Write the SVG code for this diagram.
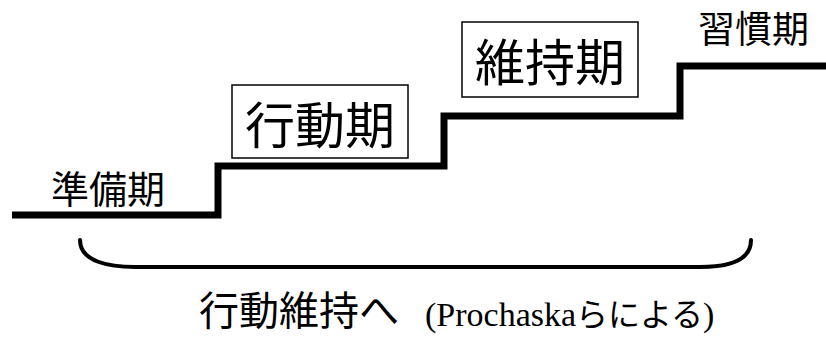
<svg xmlns="http://www.w3.org/2000/svg" width="826" height="338" viewBox="0 0 826 338">
<style>
.jp{font-family:"Noto Sans CJK JP","Noto Sans",sans-serif;fill:#000}
.lat{font-family:"Liberation Serif","Times New Roman",serif;fill:#000}
.box{fill:#fff;stroke:#000;stroke-width:1.5}
.step{fill:none;stroke:#000;stroke-width:7;stroke-linejoin:miter}
.brace{fill:none;stroke:#000;stroke-width:4;stroke-linecap:round}
</style>
<rect width="826" height="338" fill="#fff"/>
<g id="connectors">
<path class="step" d="M12,215 H218 V166 H444 V116 H680 V66 H826"/>
<path class="brace" d="M80,240 C80,262 110,267 135,267 H700 C725,267 751,262 751,240"/>
</g>
<g id="junbiki">
<text class="jp" x="51" y="203" font-size="38">準備期</text>
</g>
<g id="kodoki">
<rect class="box" x="232" y="85" width="176" height="73"/>
<text class="jp" x="320" y="144" font-size="50" text-anchor="middle">行動期</text>
</g>
<g id="ijiki">
<rect class="box" x="462" y="22" width="176" height="75"/>
<text class="jp" x="550" y="81" font-size="50" text-anchor="middle">維持期</text>
</g>
<g id="shukanki">
<text class="jp" x="698" y="43" font-size="37">習慣期</text>
</g>
<g id="caption">
<text x="199" y="325"><tspan class="jp" font-size="40">行動維持へ</tspan></text>
<text x="425" y="326"><tspan class="lat" font-size="34">(Prochaska</tspan><tspan class="jp" font-size="32">らによる</tspan><tspan class="lat" font-size="34">)</tspan></text>
</g>
</svg>
